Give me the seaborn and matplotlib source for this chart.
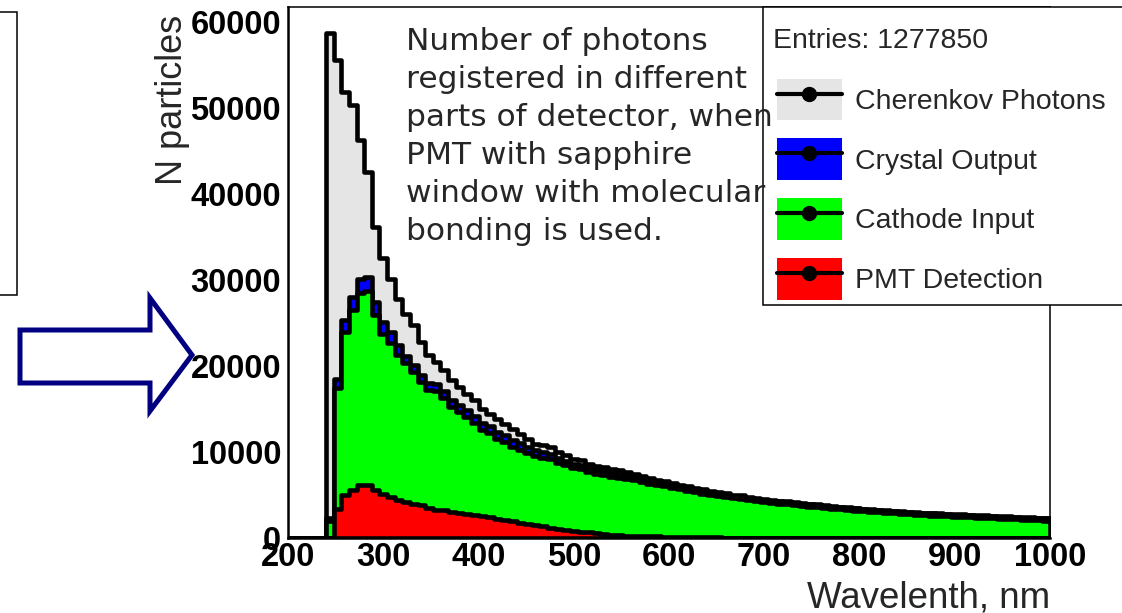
import numpy as np
import pandas as pd
import matplotlib
matplotlib.use("Agg")
import matplotlib.pyplot as plt
import seaborn as sns
from matplotlib.patches import Patch, Rectangle, Polygon
from matplotlib.lines import Line2D
from matplotlib.ticker import MultipleLocator

# ---------------- data (8 nm bins, 200..1000 nm) ----------------
bin_lo = list(range(200, 1000, 8))

cherenkov = [0, 0, 0, 0, 0,
    58700, 55600, 51900, 50400, 46300,
    42600, 36200, 32600, 30100, 27800,
    26050, 24770, 22800, 21280, 20470,
    19540, 18380, 17560, 16750, 16050,
    15000, 14420, 13840, 13260, 12680,
    12100, 11510, 10930, 10820, 10580,
    10000, 9650, 9190, 9070, 8600,
    8400, 8200, 8050, 7900, 7700,
    7450, 7200, 7000, 6800, 6600,
    6400, 6200, 6000, 5800, 5650,
    5500, 5350, 5200, 5050, 4950,
    4800, 4700, 4550, 4450, 4350,
    4250, 4150, 4050, 3980, 3900,
    3800, 3720, 3650, 3580, 3500,
    3430, 3370, 3300, 3250, 3180,
    3120, 3070, 3010, 2960, 2920,
    2870, 2830, 2780, 2740, 2700,
    2660, 2620, 2580, 2540, 2500,
    2470, 2430, 2400, 2370, 2330]

crystal = [0, 0, 0, 0, 0,
    2300, 18500, 25300, 28000, 30100,
    30400, 27400, 25100, 24000, 22400,
    21170, 20120, 18960, 18030, 17900,
    17100, 16050, 15470, 14890, 14190,
    13370, 13030, 12330, 11980, 11400,
    11000, 10600, 10200, 10000, 9800,
    9300, 9000, 8650, 8500, 8150,
    7950, 7750, 7600, 7450, 7300,
    7100, 6900, 6700, 6550, 6350,
    6150, 5980, 5800, 5620, 5480,
    5330, 5200, 5050, 4920, 4820,
    4680, 4590, 4450, 4360, 4260,
    4160, 4070, 3980, 3910, 3830,
    3730, 3660, 3590, 3520, 3440,
    3370, 3310, 3240, 3190, 3120,
    3060, 3010, 2950, 2900, 2860,
    2810, 2770, 2720, 2680, 2640,
    2600, 2560, 2520, 2480, 2440,
    2410, 2370, 2340, 2310, 2270]

cathode = [0, 0, 0, 0, 0,
    2000, 17400, 24000, 26500, 28500,
    28700, 25900, 23700, 22700, 21300,
    20350, 19300, 18140, 17210, 17100,
    16280, 15240, 14650, 14070, 13370,
    12560, 12210, 11510, 11160, 10580,
    10250, 9900, 9550, 9350, 9150,
    8700, 8450, 8120, 7980, 7650,
    7480, 7300, 7150, 7010, 6880,
    6700, 6510, 6320, 6180, 6000,
    5800, 5640, 5470, 5300, 5170,
    5030, 4910, 4770, 4650, 4560,
    4420, 4340, 4200, 4110, 4010,
    3910, 3820, 3730, 3660, 3580,
    3480, 3410, 3340, 3270, 3190,
    3120, 3060, 2990, 2940, 2870,
    2810, 2760, 2700, 2650, 2610,
    2560, 2520, 2470, 2430, 2390,
    2350, 2310, 2270, 2230, 2190,
    2160, 2120, 2090, 2060, 2020]

pmt = [0, 0, 0, 0, 0,
    0, 3400, 5000, 5600, 6200,
    6200, 5600, 5100, 4800, 4400,
    4200, 4000, 3800, 3500, 3300,
    3200, 3000, 2900, 2800, 2700,
    2550, 2400, 2250, 2100, 1950,
    1800, 1650, 1500, 1350, 1200,
    1050, 950, 850, 750, 650,
    550, 450, 380, 320, 280,
    250, 220, 200, 180, 160,
    150, 130, 120, 100, 90,
    70, 60, 50, 45, 40,
    35, 30, 28, 25, 22,
    20, 18, 16, 15, 14,
    12, 11, 10, 9, 8,
    8, 7, 6, 6, 5,
    5, 4, 4, 4, 3,
    3, 3, 2, 2, 2,
    2, 2, 1, 1, 1,
    1, 1, 1, 1, 1]

series_names = ["Cherenkov Photons", "Crystal Output", "Cathode Input", "PMT Detection"]
series_colors = ["#e5e5e5", "#0000ff", "#00ff00", "#ff0000"]
entries_text = "Entries: 1277850"
note_text = ("Number of photons\nregistered in different\nparts of detector, when\n"
             "PMT with sapphire\nwindow with molecular\nbonding is used.")
x_title = "Wavelenth, nm"
y_title = "N particles"

# ---------------- plot ----------------
sns.set_style("white")
plt.rcParams["font.family"] = ["Liberation Sans", "DejaVu Sans"]

W, H = 1122, 613
fig = plt.figure(figsize=(W / 100, H / 100), dpi=100)
L, R, T, B = 288, 1050, 7, 538
ax = fig.add_axes([L / W, 1 - B / H, (R - L) / W, (B - T) / H])

edges = [float(e) for e in bin_lo] + [1000.0]
centers = [lo + 4.0 for lo in bin_lo]
for vals, col in zip([cherenkov, crystal, cathode, pmt], series_colors):
    df = pd.DataFrame({"wavelength": centers, "n": vals})
    sns.histplot(data=df, x="wavelength", weights="n", bins=edges, element="step",
                 fill=True, color=col, alpha=1, edgecolor="black", linewidth=3.3,
                 ax=ax)

ax.set_xlim(200, 1000)
ax.set_ylim(0, 61740)
ax.xaxis.set_major_locator(MultipleLocator(100))
ax.xaxis.set_minor_locator(MultipleLocator(20))
ax.yaxis.set_major_locator(MultipleLocator(10000))
ax.yaxis.set_minor_locator(MultipleLocator(2000))
ax.tick_params(axis="both", which="both", direction="in", top=False, right=False,
               width=1.1, colors="black")
ax.tick_params(axis="x", which="major", length=11.5, pad=3, labelsize=23.5)
ax.tick_params(axis="x", which="minor", length=5.8)
ax.tick_params(axis="y", which="major", length=18, pad=5, labelsize=23.5)
ax.tick_params(axis="y", which="minor", length=9.4)
for lab in ax.get_xticklabels() + ax.get_yticklabels():
    lab.set_fontweight("bold")

for side in ["left", "bottom"]:
    ax.spines[side].set_linewidth(1.8)
for side in ["top", "right"]:
    ax.spines[side].set_linewidth(1.1)
for s in ax.spines.values():
    s.set_color("black")
    s.set_visible(True)

ax.set_xlabel(x_title, fontsize=26.5, loc="right", labelpad=5)
ax.set_ylabel(y_title, fontsize=26, loc="top")
ax.yaxis.set_label_coords((190 - L) / (R - L), 1 - (15 - T) / (B - T))

# legend frame (extends past the right edge of the figure)
ax.add_patch(Rectangle((763 / W, 1 - 305 / H), (1140 - 763) / W, 298 / H,
                       transform=fig.transFigure, clip_on=False, facecolor="white",
                       edgecolor="black", linewidth=1.1, zorder=4.5))
ax.text(773 / W, 1 - 41 / H, entries_text, transform=fig.transFigure,
        ha="left", va="center", fontsize=20.5, zorder=6, clip_on=False)

handles = [(Patch(facecolor=c, edgecolor="none"),
            Line2D([], [], color="black", lw=3, marker="o", markersize=10))
           for c in series_colors]
leg = ax.legend(handles, series_names, loc="upper left",
                bbox_to_anchor=(768 / W, 1 - 70 / H),
                bbox_transform=fig.transFigure,
                fontsize=20.5, frameon=False,
                borderpad=0.3, handlelength=2.3, handleheight=1.89,
                handletextpad=0.45, labelspacing=0.63, borderaxespad=0)
leg.set_zorder(5)

# annotation text (over legend)
fig.text(406 / W, 1 - 27 / H, note_text, ha="left", va="top", fontsize=22.5,
         family="DejaVu Sans", linespacing=1.39, zorder=10)

# left-side box and arrow
fig.patches.append(Rectangle((-10 / W, 1 - 295 / H), 27 / W, 283 / H,
                             transform=fig.transFigure, fill=False,
                             edgecolor="black", linewidth=1.1))
arrow_px = [(20, 330), (150, 330), (150, 298), (192, 355), (150, 411), (150, 383), (20, 383)]
fig.patches.append(Polygon([(x / W, 1 - y / H) for x, y in arrow_px], closed=True,
                           transform=fig.transFigure, fill=False,
                           edgecolor="#000080", linewidth=3.6, joinstyle="miter"))

fig.savefig("out.png", dpi=100)
